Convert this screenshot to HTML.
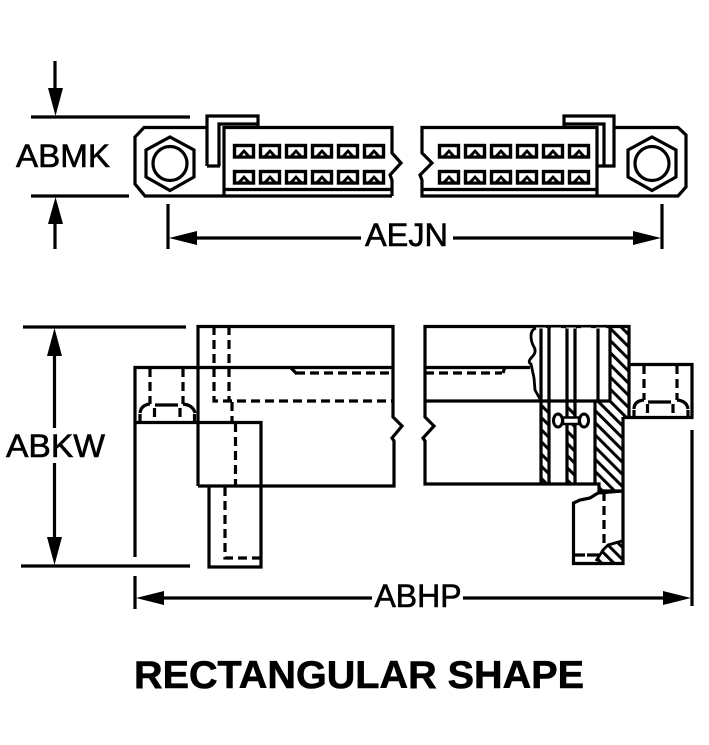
<!DOCTYPE html>
<html><head><meta charset="utf-8"><style>
html,body{margin:0;padding:0;background:#fff;width:709px;height:745px;overflow:hidden}
svg{display:block}
text{font-family:"Liberation Sans",Arial,sans-serif;fill:#000;stroke:#000;stroke-width:.6px}
.l{fill:none;stroke:#000;stroke-width:3.2}
.d{fill:none;stroke:#000;stroke-width:3.2;stroke-dasharray:9 5}
.t{fill:none;stroke:#000;stroke-width:2.8}
.c{fill:#fff;stroke:#000;stroke-width:3}
</style></head><body>
<svg width="709" height="745" viewBox="0 0 709 745" xmlns="http://www.w3.org/2000/svg">
<defs>
<pattern id="h" width="8.6" height="8" patternUnits="userSpaceOnUse" patternTransform="rotate(-45)">
<rect width="8.6" height="8" fill="#fff"/><rect x="0" y="0" width="3" height="8" fill="#000"/>
</pattern>
<g id="cell"><rect x="1.5" y="1.5" width="19" height="11.5" fill="#fff" stroke="#000" stroke-width="3.4"/><path d="M4 12.500 L11 5 L18 12.500 Z" fill="#000"/><path d="M9 11.500 L11 9 L13 11.500 Z" fill="#fff"/></g>
</defs>

<!-- dimension ABMK -->
<path class="l" d="M55 61V95M31 117H190M31 196H129M55 222V249"/>
<path d="M48 88H63L55.5 116Z M48 224H63L55.5 197Z"/>
<text x="16" y="167" font-size="32" textLength="94" lengthAdjust="spacingAndGlyphs">ABMK</text>

<!-- top left connector -->
<path class="l" d="M207 127.500H144L135 137V184L145 196H392"/>
<path class="l" d="M207 166V116H258V127M207 166H220M219 166V124H258"/>
<path class="l" fill="#fff" d="M224 196V127.500H392V153L401 163L390 175L392 180V196"/>
<path class="l" d="M224 189.500H392"/>
<path class="l" d="M170 137L194 150V177L170 190.500L146 177V150Z"/>
<circle class="l" cx="170" cy="163.500" r="17"/>
<use href="#cell" x="233" y="144"/><use href="#cell" x="259" y="144"/><use href="#cell" x="285" y="144"/><use href="#cell" x="311" y="144"/><use href="#cell" x="337" y="144"/><use href="#cell" x="363" y="144"/>
<use href="#cell" x="233" y="170"/><use href="#cell" x="259" y="170"/><use href="#cell" x="285" y="170"/><use href="#cell" x="311" y="170"/><use href="#cell" x="337" y="170"/><use href="#cell" x="363" y="170"/>

<!-- top right connector -->
<path class="l" d="M614 127.500H678L686 135V187L678 196H597"/>
<path class="l" d="M564 127V116H614V166H597M564 124H604V166"/>
<path class="l" d="M597 196V127.500H422V153L432 163L420 175L422 180V196H597"/>
<path class="l" d="M422 189.500H597"/>
<path class="l" d="M652 137L676 150V177L652 190.500L628 177V150Z"/>
<circle class="l" cx="652" cy="163.500" r="17"/>
<use href="#cell" x="438" y="144"/><use href="#cell" x="464" y="144"/><use href="#cell" x="490" y="144"/><use href="#cell" x="516" y="144"/><use href="#cell" x="542" y="144"/><use href="#cell" x="568" y="144"/>
<use href="#cell" x="438" y="170"/><use href="#cell" x="464" y="170"/><use href="#cell" x="490" y="170"/><use href="#cell" x="516" y="170"/><use href="#cell" x="542" y="170"/><use href="#cell" x="568" y="170"/>

<!-- dimension AEJN -->
<path class="l" d="M168 204V249M662 204V249M190 238H361M453 238H640"/>
<path d="M169 238L197 231V245Z M661 238L633 231V245Z"/>
<text x="365" y="246" font-size="32" textLength="83" lengthAdjust="spacingAndGlyphs">AEJN</text>

<!-- dimension ABKW -->
<path class="l" d="M23 327H186M21 566H190M54.500 350V428M54.500 463V542"/>
<path d="M47 356H62L54.500 328Z M47 537H62L54.500 565Z"/>
<text x="6" y="457" font-size="32" textLength="99" lengthAdjust="spacingAndGlyphs">ABKW</text>

<!-- side view left -->
<path class="l" d="M135 557V367.500H393"/>
<path class="l" d="M135 422.500H198"/>
<path class="l" d="M198 486V326.500H393V417L402 426L392 438L394 441V486H198"/>
<path class="l" d="M198 422.500H261V486"/>
<path class="l" d="M209 486V567H261V486"/>
<path class="d" d="M214 326V401H393M229 326V401M232 402V422M235.500 423V486M225 487V558H261"/>
<path class="d" d="M296 373H393"/>
<path class="l" d="M291 368L297 374"/>
<path class="d" d="M150 368V404M183 368V404" stroke-dasharray="8 4"/>
<path class="l" d="M150 404Q141 405 140 413M183 404Q193 405 195 413M155 405H178"/>
<path class="d" d="M140 414V422M154.500 408V422M180 408V422M194.500 414V422" stroke-dasharray="6 3"/>

<!-- side view right: hatching -->
<rect x="610" y="327" width="19" height="90" fill="url(#h)"/>
<path d="M595 401H629V417H623V491H599V483H595Z" fill="url(#h)"/>
<rect x="541" y="401" width="8" height="82" fill="url(#h)"/>
<rect x="567" y="401" width="8" height="82" fill="url(#h)"/>
<path d="M596 562L604 549L610 545L622 541V562Z" fill="url(#h)"/>

<path class="l" d="M529 326.500H425V417L434 426L423 438L425 441V484H599V491H623"/>
<path class="l" d="M425 367.500H530M425 401H610"/>
<path class="d" d="M425 373H502" stroke-dasharray="8 4"/>
<path class="l" d="M503 373L505 367"/>
<path class="t" d="M536 328Q531 330 531 336T534 347T532 357T531 364L534 378L535 390L540 399"/>
<path class="l" d="M529 326.500H629V417M541 328V484M549 328V484M567 328V484M575 328V484M598 328V401M595 401V484M610 328V401"/>
<path d="M536 328H608" stroke="#fff" stroke-width="1" stroke-dasharray="10 5" fill="none"/>
<path class="l" d="M623 417V563.500H573.500V503L580 500L590 498L598 493L622 491"/>
<path class="d" d="M604 492V545" stroke-dasharray="8 5"/>
<path class="t" d="M596 561L603 550L608 545L622 541"/>
<path class="l" d="M573 555H585M587 555H599"/>

<!-- pin -->
<ellipse cx="558" cy="420.500" rx="4.500" ry="6.500" class="c"/>
<ellipse cx="584" cy="420.500" rx="4.500" ry="6.500" class="c"/>
<rect x="563" y="417.500" width="16" height="6.500" fill="#fff" stroke="#000" stroke-width="2.500"/>

<!-- right side screw box -->
<path class="l" d="M629 364.500H692V417.500H623"/>
<path class="d" d="M644 365V400M677 365V400" stroke-dasharray="8 4"/>
<path class="l" d="M644 400Q634 401 634 409M677 400Q687 401 688 409M648 402H671"/>
<path class="d" d="M634 410V417M647.500 404V417M673 404V417M688 410V417" stroke-dasharray="6 3"/>

<!-- dimension ABHP -->
<path class="l" d="M135 576V609M692 430V606M160 598H372M463 598H668"/>
<path d="M136 598L164 591V605Z M691 598L663 591V605Z"/>
<text x="374.500" y="607" font-size="32" textLength="87" lengthAdjust="spacingAndGlyphs">ABHP</text>

<!-- title -->
<text x="134" y="688" font-size="38.500" font-weight="bold" textLength="450" lengthAdjust="spacingAndGlyphs">RECTANGULAR SHAPE</text>
</svg>
</body></html>
